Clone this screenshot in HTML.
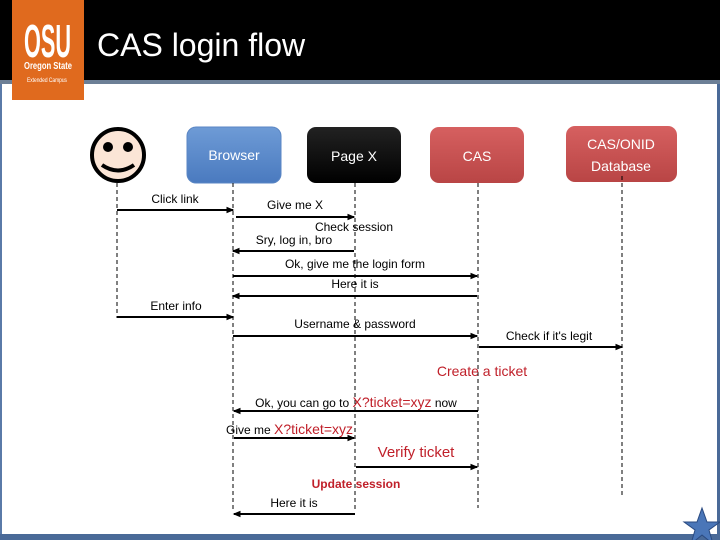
<!DOCTYPE html>
<html><head><meta charset="utf-8"><style>
html,body{margin:0;padding:0;background:#fff}
svg{display:block}
text{font-family:"Liberation Sans",sans-serif}
</style></head><body>
<svg width="720" height="540" viewBox="0 0 720 540" xmlns="http://www.w3.org/2000/svg">
<defs>
<linearGradient id="gb" x1="0" y1="0" x2="0" y2="1"><stop offset="0" stop-color="#6e9bd6"/><stop offset="1" stop-color="#4a7abf"/></linearGradient>
<linearGradient id="gr" x1="0" y1="0" x2="0" y2="1"><stop offset="0" stop-color="#d66060"/><stop offset="1" stop-color="#b94545"/></linearGradient>
<linearGradient id="gk" x1="0" y1="0" x2="0" y2="1"><stop offset="0" stop-color="#222"/><stop offset="1" stop-color="#000"/></linearGradient>
<marker id="ah" viewBox="0 0 6 6" refX="5" refY="3" markerWidth="4" markerHeight="4" orient="auto"><path d="M0,0.5 L6,3 L0,5.5z" fill="#000"/></marker>
</defs>
<rect x="0" y="0" width="720" height="80" fill="#000"/>
<rect x="0" y="80" width="720" height="4" fill="#6c7f96"/>
<rect x="0" y="84" width="2" height="456" fill="#5a7aa8"/>
<rect x="717" y="84" width="3" height="456" fill="#4a6a98"/>
<rect x="0" y="534" width="720" height="6" fill="#4a6a98"/>
<rect x="12" y="0" width="72" height="100" fill="#e06a1e"/>
<text x="24" y="57" fill="#fff" font-size="46" font-weight="bold" textLength="47" lengthAdjust="spacingAndGlyphs">OSU</text>
<text x="24" y="69" fill="#fff" font-size="10" font-weight="bold" textLength="48" lengthAdjust="spacingAndGlyphs">Oregon State</text>
<text x="27" y="82" fill="#fff" font-size="6" textLength="40" lengthAdjust="spacingAndGlyphs">Extended Campus</text>
<text x="97" y="56" fill="#fff" font-size="32">CAS login flow</text>

<circle cx="118" cy="155" r="26" fill="#fbe5d6" stroke="#000" stroke-width="4"/>
<circle cx="108" cy="147" r="5" fill="#000"/><circle cx="128" cy="147" r="5" fill="#000"/>
<path d="M102,165 Q118,176 134,165" fill="none" stroke="#000" stroke-width="4"/>

<rect x="187" y="127" width="94" height="56" rx="9" fill="url(#gb)" stroke="#5a86c4"/>
<text x="234" y="160" fill="#fff" font-size="14" text-anchor="middle">Browser</text>
<rect x="307" y="127" width="94" height="56" rx="9" fill="url(#gk)"/>
<text x="354" y="161" fill="#fff" font-size="14" text-anchor="middle">Page X</text>
<rect x="430" y="127" width="94" height="56" rx="9" fill="url(#gr)"/>
<text x="477" y="161" fill="#fff" font-size="14" text-anchor="middle">CAS</text>
<rect x="566" y="126" width="111" height="56" rx="9" fill="url(#gr)"/>
<text x="621" y="149" fill="#fff" font-size="14" text-anchor="middle">CAS/ONID</text>
<text x="621" y="171" fill="#fff" font-size="14" text-anchor="middle">Database</text>

<g stroke="#000" stroke-width="1" stroke-dasharray="4,3">
<line x1="117" y1="183" x2="117" y2="318"/>
<line x1="233" y1="183" x2="233" y2="512"/>
<line x1="355" y1="183" x2="355" y2="512"/>
<line x1="478" y1="183" x2="478" y2="508"/>
<line x1="622" y1="176" x2="622" y2="498"/>
</g>

<g stroke="#000" stroke-width="2" marker-end="url(#ah)">
<line x1="117" y1="210" x2="233" y2="210"/>
<line x1="236" y1="217" x2="354" y2="217"/>
<line x1="354" y1="251" x2="233" y2="251"/>
<line x1="233" y1="276" x2="477" y2="276"/>
<line x1="477" y1="296" x2="233" y2="296"/>
<line x1="117" y1="317" x2="233" y2="317"/>
<line x1="233" y1="336" x2="477" y2="336"/>
<line x1="479" y1="347" x2="622" y2="347"/>
<line x1="478" y1="411" x2="234" y2="411"/>
<line x1="234" y1="438" x2="354" y2="438"/>
<line x1="356" y1="467" x2="477" y2="467"/>
<line x1="355" y1="514" x2="234" y2="514"/>
</g>

<g font-size="12" fill="#000" text-anchor="middle">
<text x="175" y="203">Click link</text>
<text x="295" y="209">Give me X</text>
<text x="354" y="231">Check session</text>
<text x="294" y="244">Sry, log in, bro</text>
<text x="355" y="268">Ok, give me the login form</text>
<text x="355" y="288">Here it is</text>
<text x="176" y="310">Enter info</text>
<text x="355" y="328">Username &amp; password</text>
<text x="549" y="340">Check if it's legit</text>
<text x="294" y="507">Here it is</text>
</g>
<text x="482" y="376" font-size="14" fill="#c0202a" text-anchor="middle">Create a ticket</text>
<text x="356" y="407" font-size="12" text-anchor="middle" fill="#000">Ok, you can go to <tspan fill="#c0202a" font-size="14">X?ticket=xyz</tspan> now</text>
<text x="226" y="434" font-size="12" fill="#000">Give me <tspan fill="#c0202a" font-size="14">X?ticket=xyz</tspan></text>
<text x="416" y="457" font-size="15" fill="#c0202a" text-anchor="middle">Verify ticket</text>
<text x="356" y="488" font-size="12" font-weight="bold" fill="#c0202a" text-anchor="middle">Update session</text>

<polygon points="702,508 707,522 720,522 709,530 713,544 702,535 691,544 695,530 684,522 697,522" fill="#4a76b8" stroke="#2a4a80" stroke-width="1"/>
</svg>
</body></html>
